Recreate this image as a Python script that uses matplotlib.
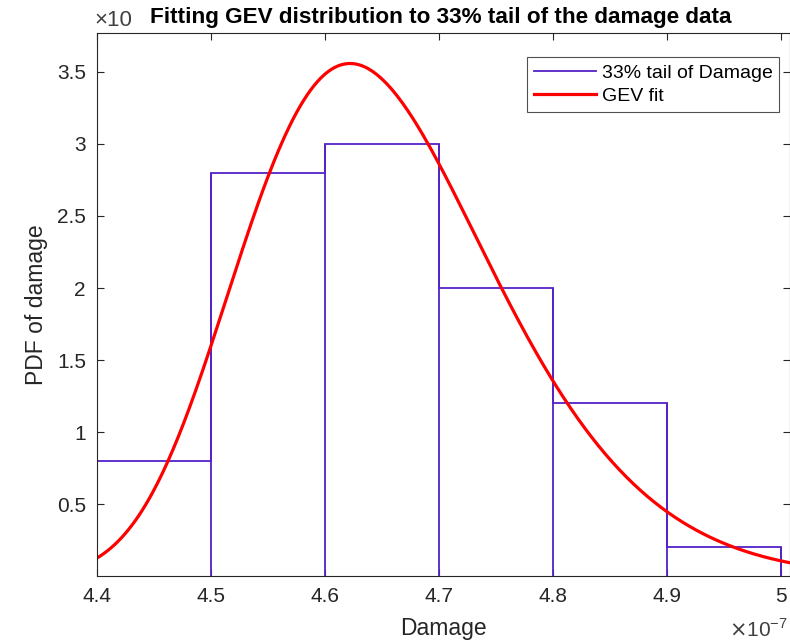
import numpy as np
import matplotlib
matplotlib.use("Agg")
import matplotlib.pyplot as plt

plt.rcParams['font.family'] = ['Liberation Sans', 'DejaVu Sans']

# Histogram of the 33% tail (damage in units of 1e-7, density in units of 1e7)
bin_edges = [4.4, 4.5, 4.6, 4.7, 4.8, 4.9, 5.0]
density = [0.8, 2.8, 3.0, 2.0, 1.2, 0.2]

# Fitted GEV parameters (shape k, scale sigma, location mu), same scaled units
gev_k = -0.13
gev_sigma = 0.1043
gev_mu = 4.6076

x_ticks = [4.4, 4.5, 4.6, 4.7, 4.8, 4.9, 5.0]
x_tick_labels = ['4.4', '4.5', '4.6', '4.7', '4.8', '4.9', '5']
y_ticks = [0.5, 1.0, 1.5, 2.0, 2.5, 3.0, 3.5]
y_tick_labels = ['0.5', '1', '1.5', '2', '2.5', '3', '3.5']


def gev_pdf(x, k, sigma, mu):
    t = 1.0 + k * (x - mu) / sigma
    t = np.clip(t, 1e-12, None)
    return (1.0 / sigma) * t ** (-1.0 - 1.0 / k) * np.exp(-t ** (-1.0 / k))


hist_color = '#5421c7'
text_color = '#262626'

fig = plt.figure(figsize=(7.9, 6.4), dpi=100)
ax = fig.add_axes([97 / 790, 1 - 575.8 / 640, 692.5 / 790, (575.8 - 33) / 640])

ax.stairs(density, bin_edges, color=hist_color, linewidth=1.3,
          label='33% tail of Damage')
ax.vlines(bin_edges[1:-1], 0, np.maximum(density[:-1], density[1:]),
          color=hist_color, linewidth=1.3)
ax.vlines([bin_edges[0], bin_edges[-1]], 0, [density[0], density[-1]],
          color=hist_color, linewidth=1.3)

xs = np.linspace(4.4, 5.0075, 400)
ax.plot(xs, gev_pdf(xs, gev_k, gev_sigma, gev_mu), color='#ff0000',
        linewidth=2.3, label='GEV fit')

ax.set_xlim(4.4, 5.0075)
ax.set_ylim(0.003, 3.77)
ax.set_xticks(x_ticks)
ax.set_xticklabels(x_tick_labels)
ax.set_yticks(y_ticks)
ax.set_yticklabels(y_tick_labels)
ax.tick_params(direction='in', length=5, width=0.8, top=True, right=True,
               labelsize=15, colors=text_color, pad=8)
for s in ax.spines.values():
    s.set_color(text_color)
    s.set_linewidth(0.8)

ax.set_xlabel('Damage', fontsize=16.5, color=text_color, labelpad=8)
ax.set_ylabel('PDF of damage', fontsize=16.5, color=text_color, labelpad=6)

# Exponent labels for both axes
fig.text(94 / 790, 1 - 20 / 640, '×10', fontsize=16, color='#404040',
         ha='left', va='center')
fig.text(788 / 790, 1 - 637 / 640, r'$\times$10$^{\mathregular{-7}}$',
         fontsize=15, color='#404040', ha='right', va='baseline')

fig.text(441 / 790, 1 - 18 / 640,
         'Fitting GEV distribution to 33% tail of the damage data',
         fontsize=16.2, fontweight='bold', color='black', ha='center',
         va='center')

leg = ax.legend(loc='upper right', bbox_to_anchor=(0.9855, 0.955), fontsize=14,
                frameon=True, fancybox=False, edgecolor=text_color,
                handlelength=3.2, borderpad=0.35, labelspacing=0.3,
                handletextpad=0.3, borderaxespad=0)
leg.get_frame().set_linewidth(0.8)

fig.savefig('out.png', dpi=100)
